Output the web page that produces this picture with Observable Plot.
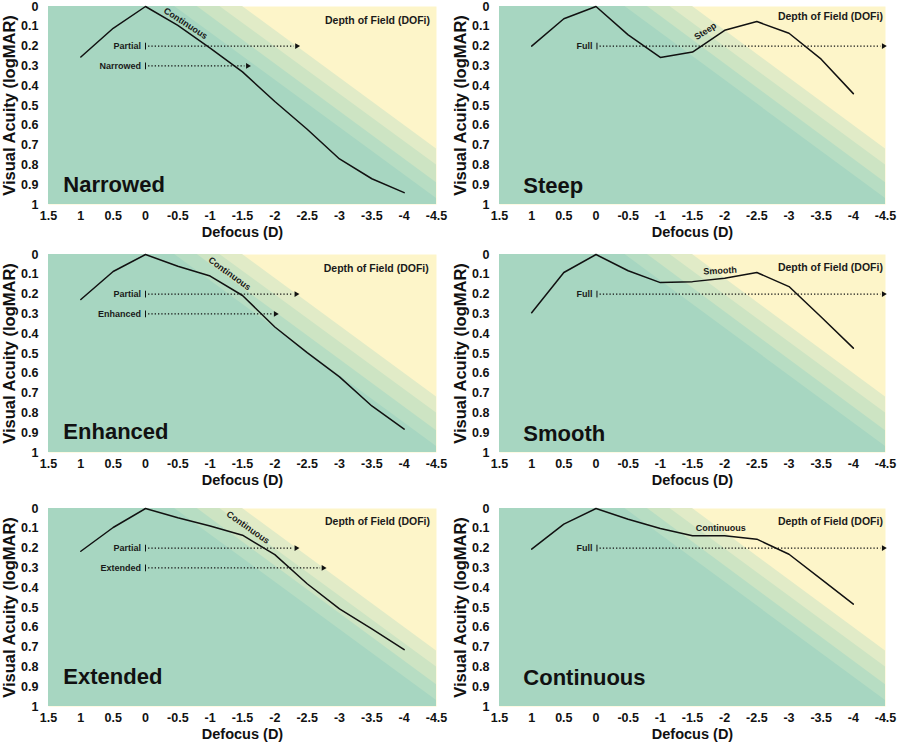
<!DOCTYPE html>
<html>
<head>
<meta charset="utf-8">
<script src="https://cdn.jsdelivr.net/npm/d3@7"></script>
<script src="https://cdn.jsdelivr.net/npm/@observablehq/plot@0.6"></script>
<style>
  html, body { margin: 0; padding: 0; background: #fff; }
  #wrap { position: relative; width: 898px; height: 744px; overflow: hidden; background: #fff; }
  .cell { position: absolute; }
</style>
</head>
<body>
<div id="wrap"></div>
<script>
// ---- data ----
const defocus = [1, 0.5, 0, -0.5, -1, -1.5, -2, -2.5, -3, -3.5, -4];
const narrowed   = [0.255, 0.11, 0, 0.095, 0.21, 0.33, 0.48, 0.62, 0.77, 0.87, 0.94];
const steep      = [0.2, 0.062, 0, 0.143, 0.257, 0.23, 0.12, 0.076, 0.135, 0.266, 0.44];
const enhanced   = [0.227, 0.086, 0, 0.059, 0.109, 0.207, 0.366, 0.496, 0.618, 0.765, 0.882];
const smooth     = [0.294, 0.091, 0, 0.082, 0.142, 0.137, 0.12, 0.091, 0.162, 0.316, 0.473];
const extended   = [0.216, 0.096, 0, 0.047, 0.088, 0.135, 0.233, 0.38, 0.507, 0.608, 0.713];
const continuous = [0.205, 0.079, 0, 0.054, 0.101, 0.138, 0.138, 0.155, 0.231, 0.357, 0.483];

const xTicks = [1.5, 1, 0.5, 0, -0.5, -1, -1.5, -2, -2.5, -3, -3.5, -4, -4.5];
const yTicks = [0, 0.1, 0.2, 0.3, 0.4, 0.5, 0.6, 0.7, 0.8, 0.9, 1];

// DOF background bands: where each diagonal edge meets the top (y=0) and the right edge (x=-4.5)
const bandTopX   = [-1.5, -1.15, -0.8, -0.45];
const bandRightY = [0.72, 0.80, 0.89, 0.97];
const bandColors = ["#e1ebc7", "#cde4c3", "#b7ddc3", "#a7d6c1"];
const yellow = "#fdf5c9";

const panels = [
  {name: "Narrowed", values: narrowed, col: 0, row: 0,
   arrows: [{label: "Partial", y: 0.2, tip: -2.34}, {label: "Narrowed", y: 0.3, tip: -1.58}],
   curveLabel: {text: "Continuous", x: -0.62, y: 0.085, rotate: 33},
   big: {x: 1.27, y: 0.935}, dof: {x: -4.4, y: 0.087}},
  {name: "Steep", values: steep, col: 1, row: 0,
   arrows: [{label: "Full", y: 0.2, tip: -4.47}],
   curveLabel: {text: "Steep", x: -1.7, y: 0.125, rotate: -33},
   big: {x: 1.13, y: 0.94}, dof: {x: -4.46, y: 0.07}},
  {name: "Enhanced", values: enhanced, col: 0, row: 1,
   arrows: [{label: "Partial", y: 0.2, tip: -2.33}, {label: "Enhanced", y: 0.3, tip: -2.01}],
   curveLabel: {text: "Continuous", x: -1.3, y: 0.097, rotate: 36},
   big: {x: 1.27, y: 0.93}, dof: {x: -4.38, y: 0.086}},
  {name: "Smooth", values: smooth, col: 1, row: 1,
   arrows: [{label: "Full", y: 0.2, tip: -4.47}],
   curveLabel: {text: "Smooth", x: -1.93, y: 0.082, rotate: -3},
   big: {x: 1.13, y: 0.94}, dof: {x: -4.46, y: 0.082}},
  {name: "Extended", values: extended, col: 0, row: 2,
   arrows: [{label: "Partial", y: 0.2, tip: -2.33}, {label: "Extended", y: 0.3, tip: -2.75}],
   curveLabel: {text: "Continuous", x: -1.585, y: 0.096, rotate: 35},
   big: {x: 1.27, y: 0.887}, dof: {x: -4.4, y: 0.081}},
  {name: "Continuous", values: continuous, col: 1, row: 2,
   arrows: [{label: "Full", y: 0.2, tip: -4.47}],
   curveLabel: {text: "Continuous", x: -1.94, y: 0.101, rotate: 0},
   big: {x: 1.13, y: 0.89}, dof: {x: -4.46, y: 0.084}}
];

const rowTops = [0, 248, 502];
const colLefts = [0, 450];
const colWidths = [449, 448];
const colMarginLeft = [48, 49];
const font = "'Liberation Sans', Arial, Helvetica, sans-serif";
const fmt = d => String(d);

function makePanel(p) {
  const barX = p.col === 0 ? 0.0 : -0.015;
  const pts = defocus.map((d, i) => ({x: d, y: p.values[i]}));
  const marks = [Plot.frame({fill: yellow, stroke: null})];
  bandTopX.forEach((x0, i) => {
    marks.push(Plot.areaY(
      [{x: 1.5, y: 0}, {x: x0, y: 0}, {x: -4.5, y: bandRightY[i]}],
      {x: "x", y1: "y", y2: 1, fill: bandColors[i]}
    ));
  });
  marks.push(
    Plot.axisX({ticks: xTicks, tickFormat: fmt, tickSize: 0, tickPadding: 7, label: null}),
    Plot.axisY({ticks: yTicks, tickFormat: fmt, tickSize: 0, tickPadding: 10, label: null}),
    Plot.text(["Defocus (D)"], {frameAnchor: "bottom", dy: 28, lineAnchor: "middle",
      fontSize: 14.5, fontWeight: "bold", fill: "#111"}),
    Plot.text(["Visual Acuity (logMAR)"], {frameAnchor: "left", dx: -39, rotate: -90, lineAnchor: "middle",
      textAnchor: "middle", fontSize: 16.5, fontWeight: "bold", fill: "#111"}),
    Plot.text([p.dof], {x: "x", y: "y", text: () => "Depth of Field (DOFi)", textAnchor: "end",
      lineAnchor: "bottom", fontSize: 10.5, fontWeight: "bold", fill: "#1a1a1a"}),
    Plot.text([p.big], {x: "x", y: "y", text: () => p.name, textAnchor: "start",
      lineAnchor: "bottom", fontSize: 22, fontWeight: "bold", fill: "#111"})
  );
  p.arrows.forEach(a => {
    marks.push(
      Plot.link([a], {x1: barX - 0.04, x2: d => d.tip + 0.05, y1: "y", y2: "y",
        stroke: "#111", strokeWidth: 1.2, strokeDasharray: "1.3,2"}),
      Plot.link([a], {x1: barX, x2: barX, y1: d => d.y - 0.017, y2: d => d.y + 0.017,
        stroke: "#111", strokeWidth: 1}),
      Plot.dot([a], {x: "tip", y: "y", symbol: "triangle", r: 2.1, fill: "#111", stroke: null, rotate: 90}),
      Plot.text([a], {x: barX + 0.07, y: "y", text: "label", textAnchor: "end", lineAnchor: "middle",
        fontSize: 9, fontWeight: "bold", fill: "#1a1a1a"})
    );
  });
  marks.push(
    Plot.line(pts, {x: "x", y: "y", stroke: "#111", strokeWidth: 1.5}),
    Plot.text([p.curveLabel], {x: "x", y: "y", text: "text", rotate: p.curveLabel.rotate,
      textAnchor: "middle", lineAnchor: "middle", fontSize: 9, fontWeight: "bold", fill: "#1a1a1a"})
  );
  return Plot.plot({
    width: colWidths[p.col],
    height: 242,
    marginTop: 6,
    marginBottom: 38,
    marginLeft: colMarginLeft[p.col],
    marginRight: 13,
    x: {domain: [1.5, -4.5]},
    y: {domain: [0, 1], reverse: true},
    style: {fontFamily: font, fontSize: "12.5px", fontWeight: "bold", color: "#111", background: "transparent", overflow: "visible"},
    marks
  });
}

const wrap = document.getElementById("wrap");
panels.forEach(p => {
  const div = document.createElement("div");
  div.className = "cell";
  div.style.left = colLefts[p.col] + "px";
  div.style.top = rowTops[p.row] + "px";
  div.appendChild(makePanel(p));
  wrap.appendChild(div);
});
</script>
</body>
</html>
